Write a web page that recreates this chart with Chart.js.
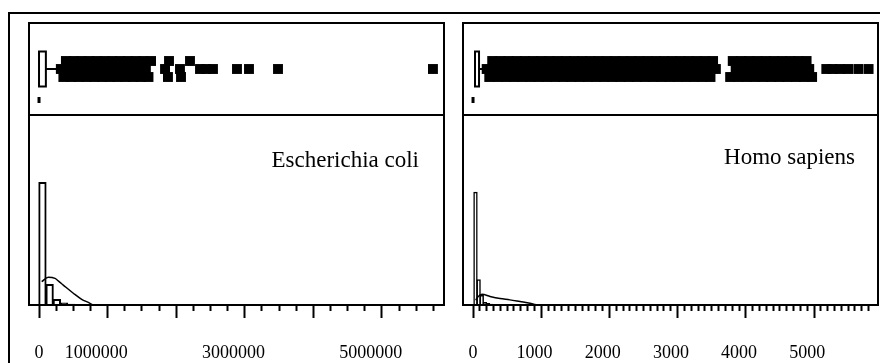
<!DOCTYPE html>
<html>
<head>
<meta charset="utf-8">
<script src="https://cdn.jsdelivr.net/npm/chart.js@4.4.1/dist/chart.umd.min.js"></script>
<style>
body { margin: 0; background: #fff; overflow: hidden; }
#wrap { position: relative; width: 880px; height: 363px; overflow: hidden; }
canvas { position: absolute; left: 0; top: 0; }
.frame { position: absolute; left: 8px; top: 12px; width: 900px; height: 400px; border-left: 2px solid #000; border-top: 2px solid #000; }
.name { position: absolute; font: 23px 'Liberation Serif', serif; line-height: 23px; white-space: nowrap; }
</style>
</head>
<body>
<div id="wrap">
  <div class="frame"></div>
  <canvas id="ecoliHist" width="880" height="388"></canvas>
  <canvas id="ecoliStrip" width="880" height="388"></canvas>
  <canvas id="homoHist" width="880" height="388"></canvas>
  <canvas id="homoStrip" width="880" height="388"></canvas>
  <div class="name" style="right:461px; top:148px;">Escherichia coli</div>
  <div class="name" style="right:25px; top:145px;">Homo sapiens</div>
</div>
<script>
// ---- Escherichia coli ----
var ecoliBox = [0, 100000];      // lower / upper hinge
var ecoliWhisker = 260000;
var ecoliRug = [0];
var ecoliCrowded = [318000, 355000, 392000, 431000, 468000, 505000, 541000, 580000, 618000, 655000,
  693000, 731000, 768000, 806000, 843000, 881000, 919000, 956000, 994000, 1031000,
  1069000, 1107000, 1144000, 1182000, 1220000, 1257000, 1295000, 1332000, 1370000, 1408000,
  1445000, 1483000, 1520000, 1558000, 1596000, 1633000,
  1837000, 1880000, 1895000, 2055000, 2070000, 2201000];
var ecoliSparse = [2347000, 2434000, 2536000, 2886000, 3061000, 3484000, 5743000];
var ecoliBins = [50000, 155000, 260000, 365000, 470000, 575000];
var ecoliPercent = [64.7, 11.1, 3.2, 1.3, 0.6, 0.3];
var ecoliDensX = [39000, 136000, 233000, 284000, 354000, 500000, 622000, 743000, 780000];
var ecoliDensY = [12.3, 14.6, 14.0, 12.6, 10.5, 6.2, 3.0, 0.9, 0];
var ecoliTickLabels = [0, 1000000, 3000000, 5000000];

// ---- Homo sapiens ----
var homoBox = [29, 88];
var homoWhisker = 150;
var homoRug = [0];
var homoCrowded = [200, 238, 281, 319, 362, 400, 441, 482, 520, 561, 603, 640, 681, 722, 760, 801,
  842, 880, 921, 962, 1000, 1041, 1082, 1120, 1161, 1202, 1240, 1281, 1322, 1360, 1401, 1442,
  1480, 1521, 1562, 1600, 1641, 1682, 1720, 1761, 1802, 1840, 1881, 1922, 1960, 2001, 2042,
  2080, 2121, 2162, 2200, 2241, 2282, 2320, 2361, 2402, 2440, 2481, 2522, 2560, 2601, 2642,
  2680, 2721, 2762, 2800, 2841, 2882, 2920, 2961, 3002, 3040, 3081, 3122, 3160, 3201, 3242,
  3280, 3321, 3362, 3400, 3441, 3482, 3520, 3561,
  3770, 3808, 3851, 3890, 3931, 3970, 4012, 4050, 4091, 4130, 4172, 4210, 4251, 4290, 4332,
  4370, 4411, 4450, 4492, 4530, 4571, 4610, 4652, 4690, 4731, 4770, 4812, 4850, 4891, 4930, 4972];
var homoSparse = [5180, 5270, 5380, 5500, 5650, 5800];
var homoBins = [36, 82, 128, 174, 220, 266, 312];
var homoPercent = [59.6, 13.5, 5.3, 1.6, 1.1, 0.6, 0.3];
var homoDensX = [40, 73, 132, 249, 396, 540, 689, 836, 938];
var homoDensY = [2.5, 4.4, 5.6, 4.5, 3.4, 2.7, 1.8, 0.9, 0];
var homoTickLabels = [0, 1000, 2000, 3000, 4000, 5000];

var jitter = [0, -8, 8];

var frame = {
  id: 'frame',
  afterDraw: function (chart) {
    var a = chart.chartArea, c = chart.ctx;
    c.save();
    c.strokeStyle = '#000';
    c.lineWidth = 2;
    c.strokeRect(a.left, a.top, a.right - a.left, a.bottom - a.top);
    c.restore();
  }
};

function strip(id, left, right, xmin, xmax, box, whisker, rug, crowded, sparse) {
  var h = 17.5;
  new Chart(document.getElementById(id), {
    type: 'line',
    data: {
      datasets: [
        { data: [{x: box[0], y: -h}, {x: box[1], y: -h}, {x: box[1], y: h}, {x: box[0], y: h}, {x: box[0], y: -h}, {x: box[1], y: -h}],
          borderColor: '#000', borderWidth: 2, pointRadius: 0, tension: 0, borderJoinStyle: 'miter' },
        { data: [{x: box[1], y: 0}, {x: whisker, y: 0}],
          borderColor: '#000', borderWidth: 2, pointRadius: 0 },
        { data: crowded.map(function (v, i) { return {x: v, y: jitter[i % jitter.length]}; }),
          showLine: false, pointStyle: 'rect', pointRadius: 7, pointBackgroundColor: '#000', pointBorderWidth: 0 },
        { data: sparse.map(function (v) { return {x: v, y: 0}; }),
          showLine: false, pointStyle: 'rect', pointRadius: 7, pointBackgroundColor: '#000', pointBorderWidth: 0 },
        { data: rug.map(function (v) { return {x: v, y: -31}; }),
          showLine: false, pointStyle: 'line', pointRotation: 90, pointRadius: 3, pointBorderColor: '#000', pointBorderWidth: 3 }
      ]
    },
    options: {
      responsive: false, animation: false, events: [],
      layout: { autoPadding: false, padding: { left: left, right: 880 - right, top: 23, bottom: 388 - 115 } },
      plugins: { legend: { display: false }, tooltip: { enabled: false } },
      scales: {
        x: { type: 'linear', min: xmin, max: xmax, display: false },
        y: { type: 'linear', min: -46, max: 46, display: false }
      }
    },
    plugins: [frame]
  });
}

function hist(id, left, right, xmin, xmax, step, major, tickMax, labels, pad, bins, pct, densX, densY, barBorder, barPct) {
  new Chart(document.getElementById(id), {
    type: 'bar',
    data: {
      datasets: [
        { type: 'line', data: densX.map(function (x, i) { return {x: x, y: densY[i]}; }),
          borderColor: '#000', borderWidth: 1.5, pointRadius: 0, cubicInterpolationMode: 'monotone' },
        { type: 'bar', data: bins.map(function (x, i) { return {x: x, y: pct[i]}; }),
          backgroundColor: 'rgba(0,0,0,0)', borderColor: '#000', borderWidth: barBorder,
          barPercentage: barPct, categoryPercentage: 1, borderSkipped: 'start' }
      ]
    },
    options: {
      responsive: false, animation: false, events: [],
      layout: { autoPadding: false, padding: { left: left, right: 880 - right, top: 115, bottom: 0 } },
      plugins: { legend: { display: false }, tooltip: { enabled: false } },
      scales: {
        x: {
          type: 'linear', min: xmin, max: xmax, offset: false,
          afterBuildTicks: function (s) {
            var t = [];
            for (var v = 0; v <= tickMax; v += step) t.push({ value: v });
            s.ticks = t;
          },
          border: { display: false },
          grid: {
            offset: false, drawOnChartArea: false, tickLength: 13, tickWidth: 2, tickColor: '#000',
            tickBorderDash: function (ctx) { return ctx.tick && ctx.tick.value % major === 0 ? [] : [6, 40]; }
          },
          ticks: {
            autoSkip: false, maxRotation: 0, minRotation: 0, includeBounds: false,
            padding: 0, color: '#000', font: { family: "'Liberation Serif', serif", size: 18, lineHeight: 70 / 18 },
            callback: function (v) {
              if (labels.indexOf(v) < 0) return '';
              return v === 0 ? '0' : v + pad;
            }
          }
        },
        y: { type: 'linear', min: 0, max: 100, display: false }
      }
    },
    plugins: [frame]
  });
}

hist('ecoliHist', 29, 444, -146000, 5904000, 250000, 1000000, 5750000, ecoliTickLabels, '     ',
  ecoliBins, ecoliPercent, ecoliDensX, ecoliDensY, 2, 1.15);
strip('ecoliStrip', 29, 444, -146000, 5904000, ecoliBox, ecoliWhisker, ecoliRug, ecoliCrowded, ecoliSparse);

hist('homoHist', 463, 878, -147, 5938, 100, 1000, 5800, homoTickLabels, '   ',
  homoBins, homoPercent, homoDensX, homoDensY, 1.5, 1.4);
strip('homoStrip', 463, 878, -147, 5938, homoBox, homoWhisker, homoRug, homoCrowded, homoSparse);
</script>
</body>
</html>
